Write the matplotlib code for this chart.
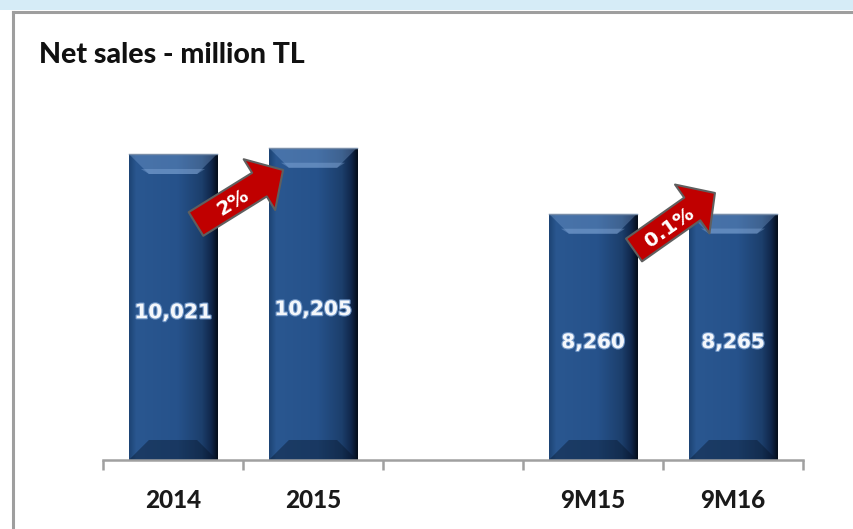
import matplotlib
matplotlib.use("Agg")
import numpy as np
import matplotlib.pyplot as plt
from matplotlib.colors import LinearSegmentedColormap
from matplotlib.patches import Polygon, Rectangle, FancyArrowPatch, ArrowStyle
from matplotlib.lines import Line2D
import matplotlib.patheffects as pe

# ── data ────────────────────────────────────────────────────────────────
categories = ["2014", "2015", "", "9M15", "9M16"]
bar_slots = [0, 1, 3, 4]
bar_labels = ["2014", "2015", "9M15", "9M16"]
net_sales = [10021, 10205, 8260, 8265]
growth_labels = ["2%", "0.1%"]

# ── figure / axes ───────────────────────────────────────────────────────
W, H = 854, 529
fig = plt.figure(figsize=(W / 100, H / 100), dpi=100)
fig.patch.set_facecolor("white")

# light blue band on top + grey frame of the slide box
fig.add_artist(Rectangle((0, 1 - 10 / H), 1, 10 / H, transform=fig.transFigure,
                         facecolor="#d6ecf7", edgecolor="none"))
fig.add_artist(Line2D([13.5 / W, 1], [1 - 12 / H, 1 - 12 / H], transform=fig.transFigure,
                      color="#9e9e9e", lw=2.2))
fig.add_artist(Line2D([13.5 / W, 13.5 / W], [0, 1 - 12 / H], transform=fig.transFigure,
                      color="#9e9e9e", lw=2.2))

fig.text(39 / W, 1 - 55 / H, "Net sales - million TL", family="Lato", weight="black",
         fontsize=20.5, color="#111111", va="center", ha="left")

ax = fig.add_axes([103 / W, 69 / H, 700 / W, 420 / H])
YMIN, YMAX = 1000, 13382
ax.set_facecolor("none")

bar_w = 0.63
bars = ax.bar(bar_slots, net_sales, width=bar_w, color="#24508a", zorder=2)

# bevel effect: horizontal gradient + light top / dark bottom bevels
cmap = LinearSegmentedColormap.from_list("bev", [
    (0.0, "#1d4474"), (0.08, "#2a5790"), (0.55, "#26528b"),
    (0.82, "#1c3f6c"), (0.93, "#10264a"), (1.0, "#050d1a")])
grad = np.linspace(0, 1, 200)[None, :]
dx = 20 / 140
dy = 20 * (YMAX - YMIN) / 420
for b in bars:
    x0, x1 = b.get_x(), b.get_x() + b.get_width()
    top = b.get_height()
    im = ax.imshow(grad, cmap=cmap, extent=[x0, x1, YMIN, top], aspect="auto",
                   zorder=2.1, interpolation="bicubic")
    im.set_clip_path(b)
    ax.add_patch(Polygon([(x0, top), (x1, top), (x1 - dx, top - dy), (x0 + dx, top - dy)],
                         closed=True, facecolor="#8fb6e6", alpha=0.3, edgecolor="none", zorder=2.2))
    ax.add_patch(Polygon([(x0 + dx * 0.6, top - dy * 0.75), (x1 - dx * 0.6, top - dy * 0.75),
                          (x1 - dx, top - dy), (x0 + dx, top - dy)],
                         closed=True, facecolor="#9cc0ee", alpha=0.3, edgecolor="none", zorder=2.25))
    ax.add_patch(Polygon([(x0, YMIN), (x1, YMIN), (x1 - dx, YMIN + dy), (x0 + dx, YMIN + dy)],
                         closed=True, facecolor="#061326", alpha=0.4, edgecolor="none", zorder=2.2))
    ax.plot([x0, x1], [top, top], color="#7a8ea8", lw=1, zorder=2.3)

ax.set_xlim(-0.5, 4.5)
ax.set_ylim(YMIN, YMAX)

# value labels
for xs, v in zip(bar_slots, net_sales):
    ax.text(xs, (YMIN + v) / 2 - 170, f"{v:,}", ha="center", va="center",
            family="DejaVu Sans", weight="bold", fontsize=14.5, color="#f4f7fb", zorder=4,
            path_effects=[pe.withStroke(linewidth=1.6, foreground="#6d93c4")])

# growth arrows (tail, tip, text position)
arrows = [((0.164, 7958), (0.786, 9550), (0.43, 8600)),
          ((3.293, 7191), (3.871, 8872), (3.55, 7860))]
style = ArrowStyle.Simple(head_length=20, head_width=43, tail_width=20)
fig.canvas.draw()
for (tail, tip, tpos), lab in zip(arrows, growth_labels):
    ax.add_patch(FancyArrowPatch(tail, tip, arrowstyle=style, mutation_scale=1,
                                 shrinkA=0, shrinkB=0, facecolor="#c00000",
                                 edgecolor="#5f5f5f", lw=1.5, zorder=5))
    p0 = ax.transData.transform(tail)
    p1 = ax.transData.transform(tip)
    ang = np.degrees(np.arctan2(p1[1] - p0[1], p1[0] - p0[0]))
    ax.text(tpos[0], tpos[1], lab, rotation=ang, rotation_mode="anchor",
            ha="center", va="center", family="DejaVu Sans", weight="bold",
            fontsize=14.5, color="white", zorder=6)

# axis styling
for s in ["top", "right", "left"]:
    ax.spines[s].set_visible(False)
ax.spines["bottom"].set_color("#a0a0a0")
ax.spines["bottom"].set_linewidth(1.8)
ax.set_yticks([])
ax.set_xticks(np.arange(-0.5, 5.0, 1.0))
ax.set_xticklabels([])
ax.tick_params(axis="x", which="major", length=7, width=1.8, color="#a0a0a0", direction="out")
ax.set_xticks(range(len(categories)), minor=True)
ax.set_xticklabels(categories, minor=True, family="Lato", weight="black",
                   fontsize=17.5, color="#1a1a1a")
ax.tick_params(axis="x", which="minor", length=0, pad=21)

fig.savefig("out.png", dpi=100)
